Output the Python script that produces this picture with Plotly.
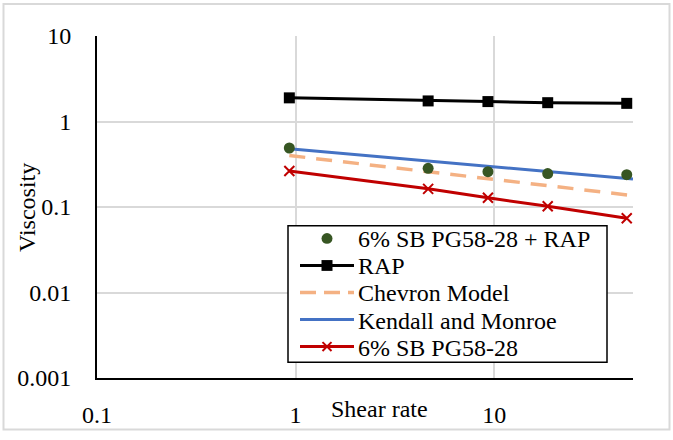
import plotly.graph_objects as go

# ---- data ----
shear_rate = [0.93, 4.65, 9.3, 18.6, 46.5]
rap = [1.89, 1.74, 1.71, 1.66, 1.63]
sb_rap = [0.49, 0.283, 0.259, 0.246, 0.239]
sb = [0.264, 0.163, 0.128, 0.102, 0.074]

model_x = [0.93, 4.65, 9.3, 18.6, 50]
chevron = [0.40, 0.259, 0.215, 0.178, 0.136]
kendall = [0.48, 0.345, 0.299, 0.260, 0.212]

x_tickvals = [0.1, 1, 10]
x_ticktext = ["0.1", "1", "10"]
y_tickvals = [0.001, 0.01, 0.1, 1, 10]
y_ticktext = ["0.001", "0.01", "0.1", "1", "10"]

legend_names = ["6% SB PG58-28 + RAP", "RAP", "Chevron Model",
                "Kendall and Monroe", "6% SB PG58-28"]

FONT = "Liberation Serif, Times New Roman, serif"
FS = 24

GREEN, BLACK, ORANGE, BLUE, RED = "#375623", "#000000", "#F4B183", "#4472C4", "#C00000"

fig = go.Figure()
fig.add_trace(go.Scatter(x=shear_rate, y=rap, name=legend_names[1], mode="lines+markers",
                         line=dict(color=BLACK, width=3),
                         marker=dict(symbol="square", size=11, color=BLACK)))
fig.add_trace(go.Scatter(x=model_x, y=chevron, name=legend_names[2], mode="lines",
                         line=dict(color=ORANGE, width=3.5, dash="16px,11px")))
fig.add_trace(go.Scatter(x=model_x, y=kendall, name=legend_names[3], mode="lines",
                         line=dict(color=BLUE, width=3)))
fig.add_trace(go.Scatter(x=shear_rate, y=sb, name=legend_names[4], mode="lines+markers",
                         line=dict(color=RED, width=3),
                         marker=dict(symbol="x-thin", size=10,
                                     line=dict(color=RED, width=2))))
fig.add_trace(go.Scatter(x=shear_rate, y=sb_rap, name=legend_names[0], mode="markers",
                         marker=dict(symbol="circle", size=11, color=GREEN)))

W, H = 673, 440
L, R, T, B = 97, 40, 36, 56
pw, ph = W - L - R, H - T - B


def px(xp):
    return (xp - L) / pw


def py(yp):
    return (H - B - yp) / ph


shapes = [
    # chart-area border
    dict(type="rect", xref="paper", yref="paper",
         x0=px(3.5), x1=px(669.5), y0=py(436.5), y1=py(3.5),
         line=dict(color="#D9D9D9", width=2), fillcolor="rgba(0,0,0,0)", layer="below"),
    # legend box
    dict(type="rect", xref="paper", yref="paper",
         x0=px(288), x1=px(607), y0=py(368), y1=py(229),
         line=dict(color=BLACK, width=1.5), fillcolor="white", layer="above"),
]
annotations = [
    dict(text="Shear rate", x=px(379), y=py(416), xref="paper", yref="paper",
         xanchor="center", yanchor="middle", showarrow=False,
         font=dict(family=FONT, size=FS, color=BLACK)),
    dict(text="Viscosity", x=px(27), y=py(211), xref="paper", yref="paper",
         xanchor="center", yanchor="middle", showarrow=False, textangle=-90,
         font=dict(family=FONT, size=FS, color=BLACK)),
]

# legend (drawn manually to match the original spacing)
row_y = [243, 270.5, 298, 325.5, 353]
lx0, lx1, lxc, tx = 300, 354, 327, 356
line_styles = [None, (BLACK, 3, "solid"), (ORANGE, 3.5, "16px,8px"),
               (BLUE, 3, "solid"), (RED, 3, "solid")]
for i, (name, ry) in enumerate(zip(legend_names, row_y)):
    annotations.append(dict(text=name, x=px(tx), y=py(ry), xref="paper", yref="paper",
                            xanchor="left", yanchor="middle", showarrow=False,
                            font=dict(family=FONT, size=FS, color=BLACK)))
    st = line_styles[i]
    if st:
        shapes.append(dict(type="line", xref="paper", yref="paper",
                           x0=px(lx0), x1=px(lx1), y0=py(ry - 1), y1=py(ry - 1),
                           line=dict(color=st[0], width=st[1], dash=st[2]), layer="above"))
# legend markers
mc = [r - 1 for r in row_y]
shapes.append(dict(type="circle", xref="paper", yref="paper",
                   x0=px(lxc - 5.5), x1=px(lxc + 5.5), y0=py(mc[0] + 5.5), y1=py(mc[0] - 5.5),
                   line=dict(color=GREEN, width=0), fillcolor=GREEN, layer="above"))
shapes.append(dict(type="rect", xref="paper", yref="paper",
                   x0=px(lxc - 5.5), x1=px(lxc + 5.5), y0=py(mc[1] + 5.5), y1=py(mc[1] - 5.5),
                   line=dict(color=BLACK, width=0), fillcolor=BLACK, layer="above"))
for sgn in (1, -1):
    shapes.append(dict(type="line", xref="paper", yref="paper",
                       x0=px(lxc - 4.5), x1=px(lxc + 4.5),
                       y0=py(mc[4] - 4.5 * sgn), y1=py(mc[4] + 4.5 * sgn),
                       line=dict(color=RED, width=2), layer="above"))

fig.update_layout(
    width=W, height=H,
    margin=dict(l=L, r=R, t=T, b=B),
    paper_bgcolor="white", plot_bgcolor="white",
    font=dict(family=FONT, size=FS, color=BLACK),
    showlegend=False,
    xaxis=dict(type="log", range=[-1, 1.699], tickvals=x_tickvals, ticktext=x_ticktext,
               showgrid=True, gridcolor="#D9D9D9", gridwidth=1.5,
               showline=True, linecolor=BLACK, linewidth=2,
               ticks="", ticklabelstandoff=14, zeroline=False),
    yaxis=dict(type="log", range=[-3, 1], tickvals=y_tickvals, ticktext=y_ticktext,
               showgrid=True, gridcolor="#D9D9D9", gridwidth=1.5,
               showline=True, linecolor=BLACK, linewidth=2,
               ticks="", ticklabelstandoff=19, zeroline=False),
    annotations=annotations,
    shapes=shapes,
)

fig.write_html("out.html", config={"displayModeBar": False},
               post_script="document.body.style.margin='0';")
